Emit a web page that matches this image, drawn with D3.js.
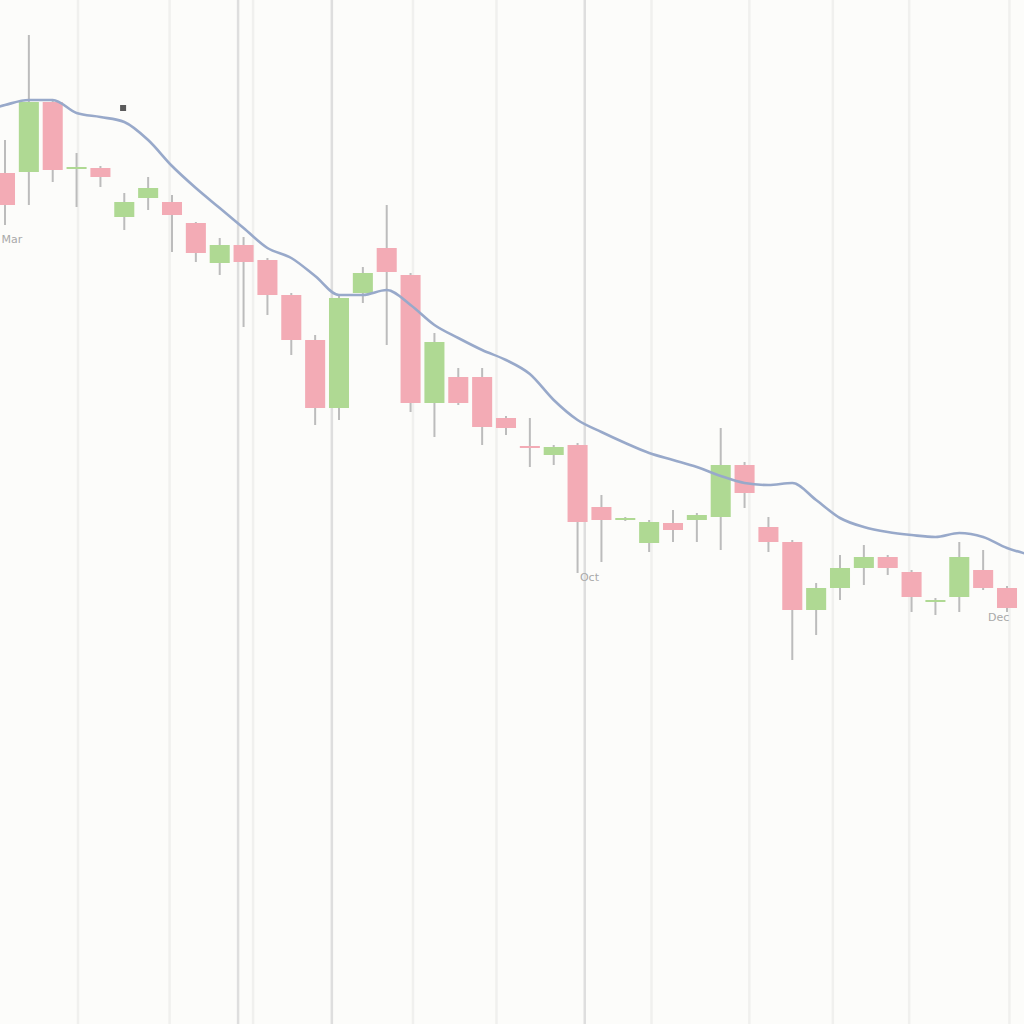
<!DOCTYPE html>
<html>
<head>
<meta charset="utf-8">
<script src="https://cdn.jsdelivr.net/npm/d3@7/dist/d3.min.js"></script>
<style>
html,body{margin:0;padding:0;background:#fcfcfa;}
svg{display:block;}
</style>
</head>
<body>
<svg id="chart" width="1024" height="1024"></svg>
<script>
// ---- data ----
const opens  = [85.1,85.2,92.2,85.6,85.6,80.7,82.6,82.2,80.1,76.1,77.9,76.4,72.9,68.4,61.6,73.1,77.6,74.9,62.1,64.7,64.7,60.6,57.8,56.9,57.9,51.7,50.5,48.1,50.1,50.4,50.7,55.9,49.7,48.2,41.4,43.6,45.6,46.7,45.2,42.3,42.7,45.4,43.6];
const closes = [81.9,92.2,85.4,85.7,84.7,82.2,83.6,80.9,77.1,77.9,76.2,72.9,68.4,61.6,72.6,75.1,75.2,62.1,68.2,62.1,59.7,59.6,57.6,57.7,50.2,50.4,50.6,50.2,49.4,50.9,55.9,53.1,48.2,41.4,43.6,45.6,46.7,45.6,42.7,42.4,46.7,43.6,41.6];
const highs  = [88.4,98.9,92.4,87.1,85.8,83.1,84.7,82.9,80.2,78.6,78.7,76.6,73.1,68.9,72.8,75.7,81.9,75.1,69.1,65.6,65.6,60.8,60.6,57.9,58.1,52.9,50.7,50.4,51.4,51.1,59.6,56.2,50.7,48.4,44.1,46.9,47.9,46.9,45.4,42.6,48.2,47.4,43.8];
const lows   = [79.9,81.9,84.2,81.7,83.7,79.4,81.4,77.2,76.2,74.9,69.7,70.9,66.9,59.9,60.4,72.1,67.9,61.2,58.7,61.9,57.9,58.9,55.7,55.9,45.1,46.2,50.3,47.2,48.2,48.2,47.4,51.6,47.2,36.4,38.9,42.4,43.9,44.9,41.2,40.9,41.2,43.4,41.2];
// moving-average line, one value per session from the session before the first candle to the one after the last
const maValues = [91.2,91.9,92.4,92.4,91.1,90.7,90.2,88.4,85.8,83.6,81.6,79.6,77.6,76.6,74.8,72.9,72.9,73.4,71.9,69.9,68.6,67.4,66.4,65.0,62.4,60.4,59.2,58.1,57.1,56.4,55.7,54.8,54.1,53.9,54.1,52.4,50.6,49.7,49.2,48.9,48.7,49.1,48.7,47.6,46.9];
// vertical gridlines (in session units)
const gridMinor = [3.06,6.9,10.4,17.1,20.6,27.1,31.2,34.7,37.9,42.1];
const gridMajor = [9.77,13.7,24.3];
// month labels: session, price level
const monthLabels = ["Mar","Oct","Dec"];
const monthAt = [-0.15, 24.1, 41.2];
const monthLevel = [78.1, 44.3, 40.3];
const markerAt = [4.95];
const markerLevel = [91.6];

// ---- chart ----
const W = 1024, H = 1024;
const svg = d3.select("#chart");
const x = d3.scaleLinear().domain([0, 42]).range([5, 1007]);
const y = d3.scaleLinear().domain([0, 102.4]).range([1024, 0]);
const step = x(1) - x(0);
const bodyW = step * 0.84;

svg.append("rect").attr("width", W).attr("height", H).attr("fill", "#fcfcfa");

svg.append("g").selectAll("line").data(gridMinor).join("line")
  .attr("x1", d => x(d)).attr("x2", d => x(d))
  .attr("y1", 0).attr("y2", H)
  .attr("stroke", "#f0f0ee").attr("stroke-width", 2.5);
svg.append("g").selectAll("line").data(gridMajor).join("line")
  .attr("x1", d => x(d)).attr("x2", d => x(d))
  .attr("y1", 0).attr("y2", H)
  .attr("stroke", "#dedede").attr("stroke-width", 2.5);

const candles = opens.map((o, i) => ({i, o, c: closes[i], h: highs[i], l: lows[i]}));

const g = svg.append("g");
g.selectAll("line.wick").data(candles).join("line")
  .attr("class", "wick")
  .attr("x1", d => x(d.i)).attr("x2", d => x(d.i))
  .attr("y1", d => y(d.h)).attr("y2", d => y(d.l))
  .attr("stroke", "#bcbcbc").attr("stroke-width", 2);
g.selectAll("rect.body").data(candles).join("rect")
  .attr("class", "body")
  .attr("x", d => x(d.i) - bodyW / 2)
  .attr("width", bodyW)
  .attr("y", d => y(Math.max(d.o, d.c)))
  .attr("height", d => Math.max(2, Math.abs(y(d.o) - y(d.c))))
  .attr("fill", d => d.c >= d.o ? "#afd993" : "#f3abb5");

const line = d3.line()
  .x((d, i) => x(i - 1))
  .y(d => y(d))
  .curve(d3.curveMonotoneX);
svg.append("path").datum(maValues)
  .attr("d", line)
  .attr("fill", "none")
  .attr("stroke", "#98a9ca")
  .attr("stroke-width", 2.6);

svg.append("g").selectAll("rect").data(markerAt).join("rect")
  .attr("x", d => x(d) - 3).attr("y", (d, i) => y(markerLevel[i]) - 3)
  .attr("width", 6).attr("height", 6).attr("fill", "#5a5a5a");

svg.append("g").selectAll("text").data(monthLabels).join("text")
  .attr("x", (d, i) => x(monthAt[i]))
  .attr("y", (d, i) => y(monthLevel[i]))
  .attr("font-family", "DejaVu Sans, sans-serif")
  .attr("font-size", 11)
  .attr("fill", "#a9a9a9")
  .text(d => d);
</script>
</body>
</html>
